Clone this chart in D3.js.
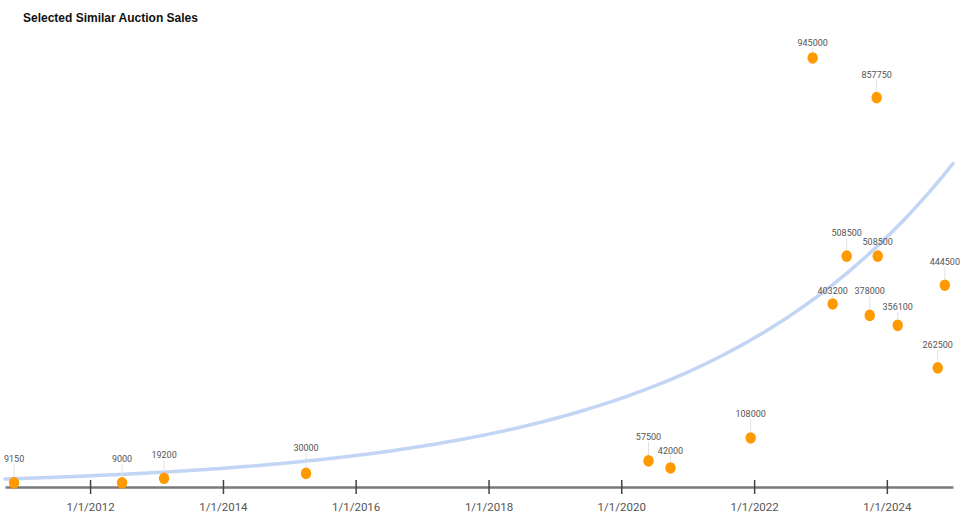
<!DOCTYPE html>
<html>
<head>
<meta charset="utf-8">
<script src="https://cdn.jsdelivr.net/npm/d3@7"></script>
<style>
  body { margin: 0; background: #fff; }
  svg { display: block; }
</style>
</head>
<body>
<div id="chart"></div>
<script>
// sale dates and prices
let saleDates = ["2010-11-09", "2012-06-25", "2013-02-11", "2015-04-03", "2020-05-30", "2020-09-28",
                 "2021-12-13", "2022-11-19", "2023-03-09", "2023-05-25", "2023-09-29", "2023-11-06",
                 "2023-11-12", "2024-03-01", "2024-10-07", "2024-11-15"];
let salePrices = [9150, 9000, 19200, 30000, 57500, 42000,
                  108000, 945000, 403200, 508500, 378000, 857750,
                  508500, 356100, 262500, 444500];
// how far each label sits above its dot (px), labels get nudged where they crowd
let labelLift = [24, 24, 23, 25, 24, 17, 24, 15, 13, 23, 24, 23, 14, 18, 23, 23];

let tickDates = ["2012-01-01", "2014-01-01", "2016-01-01", "2018-01-01", "2020-01-01", "2022-01-01", "2024-01-01"];
let xDomain = ["2010-09-20", "2024-12-30"];
let yDomain = [0, 1000000];

// exponential trendline: value at 1/1/2012 and growth per year
let trendBase = 24600;
let trendRate = 0.259;

let parse = d3.timeParse("%Y-%m-%d");
let fmtTick = d3.timeFormat("%-m/%-d/%Y");

let W = 968, H = 518;
let plot = {left: 5, right: 953, top: 33, bottom: 487};

let svg = d3.select("#chart").append("svg")
    .attr("width", W)
    .attr("height", H);

svg.append("text")
    .attr("x", 23)
    .attr("y", 22)
    .text("Selected Similar Auction Sales")
    .style("font-family", "'Liberation Sans', Arial, sans-serif")
    .style("font-weight", "bold")
    .style("font-size", "12px")
    .style("fill", "#111");

let x = d3.scaleTime()
    .domain(xDomain.map(parse))
    .range([plot.left, plot.right]);

let y = d3.scaleLinear()
    .domain(yDomain)
    .range([plot.bottom, plot.top]);

let sales = saleDates.map(function(d, i) {
    return {date: parse(d), price: salePrices[i], lift: labelLift[i]};
});

//trendline, sampled along the x domain
let t0 = parse("2012-01-01");
let yearMs = 365.25 * 24 * 3600 * 1000;
let trendPts = x.ticks(200).concat([x.domain()[0], x.domain()[1]])
    .sort(function(a, b){ return a - b; })
    .map(function(d) {
        return {date: d, value: trendBase * Math.exp(trendRate * (d - t0) / yearMs)};
    });

let line = d3.line()
    .x(function(d){ return x(d.date) })
    .y(function(d){ return y(d.value) })
    .curve(d3.curveMonotoneX);

svg.append("path")
    .datum(trendPts)
    .attr("d", line)
    .style("fill", "none")
    .style("stroke", "#c3d5f4")
    .style("stroke-width", 3.5)
    .style("stroke-linecap", "round");

//x axis
let axis = svg.append("g")
    .attr("transform", "translate(0," + plot.bottom + ")")
    .call(d3.axisBottom(x)
        .tickValues(tickDates.map(parse))
        .tickFormat(fmtTick)
        .tickSize(0)
        .tickPadding(16));
axis.select(".domain")
    .attr("stroke", "#7a7a7a")
    .attr("stroke-width", 2.5);
axis.selectAll(".tick line").remove();
axis.selectAll(".tick").append("line")
    .attr("y1", -7)
    .attr("y2", 7)
    .attr("stroke", "#444")
    .attr("stroke-width", 1.5);
axis.selectAll(".tick text")
    .style("font-family", "Roboto, 'Open Sans', sans-serif")
    .style("font-size", "11.5px")
    .style("fill", "#555");

//leader lines
svg.selectAll("myLeaders")
    .data(sales)
    .enter()
    .append("line")
    .attr("x1", function(d){ return x(d.date) })
    .attr("x2", function(d){ return x(d.date) })
    .attr("y1", function(d){ return y(d.price) - 6 })
    .attr("y2", function(d){ return y(d.price) - d.lift + 5 })
    .attr("stroke", "#e2e2e2")
    .attr("stroke-width", 1);

//points
svg.selectAll("myDots")
    .data(sales)
    .enter()
    .append("ellipse")
    .attr("cx", function(d){ return x(d.date) })
    .attr("cy", function(d){ return y(d.price) })
    .attr("rx", 5.2)
    .attr("ry", 5.8)
    .style("fill", "#ff9900");

//value labels
svg.selectAll("myLabels")
    .data(sales)
    .enter()
    .append("text")
    .attr("x", function(d){ return x(d.date) })
    .attr("y", function(d){ return y(d.price) - d.lift + 3 })
    .attr("text-anchor", "middle")
    .text(function(d){ return d.price })
    .style("font-family", "Roboto, 'Open Sans', sans-serif")
    .style("font-size", "9px")
    .style("fill", "#555");
</script>
</body>
</html>
